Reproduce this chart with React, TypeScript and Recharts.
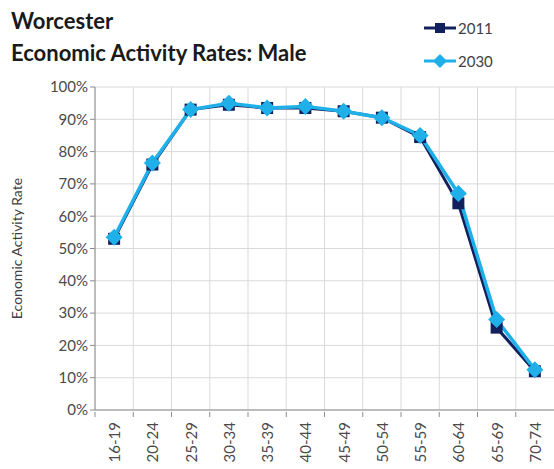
import { LineChart, Line, XAxis, YAxis, CartesianGrid, Label } from 'recharts';

// age bands along the x axis
const ageGroups = ['16-19', '20-24', '25-29', '30-34', '35-39', '40-44', '45-49', '50-54', '55-59', '60-64', '65-69', '70-74'];
// activity rates in %
const rates2011 = [53, 76, 93, 94.5, 93.5, 93.5, 92.5, 90.5, 84.5, 64, 25.5, 12];
const rates2030 = [53.5, 76.5, 93, 95, 93.5, 94, 92.5, 90.5, 85, 67, 28, 12.5];
const yTicks = [0, 10, 20, 30, 40, 50, 60, 70, 80, 90, 100];

const NAVY = '#13205e';
const LIGHT = '#1fb0ea';
const AXIS = '#8c8c8c';
const FONT = 'Lato, "Open Sans", sans-serif';

const data = ageGroups.map((age, i) => ({ age, y2011: rates2011[i], y2030: rates2030[i] }));

const SquareDot = (props: any) => {
  const { cx, cy, index } = props;
  if (cx == null || cy == null) return null;
  return <rect key={'s' + index} x={cx - 6} y={cy - 6} width={12} height={12} fill={NAVY} />;
};

const DiamondDot = (props: any) => {
  const { cx, cy, index } = props;
  if (cx == null || cy == null) return null;
  const r = 8.5;
  return (
    <polygon
      key={'d' + index}
      points={`${cx},${cy - r} ${cx + r},${cy} ${cx},${cy + r} ${cx - r},${cy}`}
      fill={LIGHT}
    />
  );
};

// Excel style: tick marks sit between categories, labels read upwards
const AgeTick = (props: any) => {
  const { x, y, payload, width } = props;
  const half = width / ageGroups.length / 2;
  const top = y - 10;
  return (
    <g>
      <line x1={x - half} y1={top} x2={x - half} y2={top + 5} stroke={AXIS} />
      <text x={x} y={y} transform={`rotate(-90, ${x}, ${y})`} textAnchor="end" dominantBaseline="central"
        fill="#4a4a4a" fontSize={15} fontFamily={FONT}>
        {payload.value}
      </text>
    </g>
  );
};

const legendItems = [
  { name: '2011', color: NAVY, shape: 'square' },
  { name: '2030', color: LIGHT, shape: 'diamond' },
];

export default function App() {
  return (
    <div style={{ position: 'absolute', left: 0, top: 0, width: 554, height: 469, background: '#fff' }}>
      <LineChart width={554} height={469} data={data} margin={{ top: 87, right: 0, bottom: 0, left: 0 }}>
        <CartesianGrid stroke="#d9d9d9"
          verticalCoordinatesGenerator={({ offset }: any) =>
            ageGroups.map((_, i) => offset.left + (i * offset.width) / ageGroups.length)} />
        <XAxis dataKey="age" scale="band" height={59} axisLine={{ stroke: AXIS }} tickLine={false}
          tick={<AgeTick />} tickMargin={0} tickSize={12} interval={0} />
        <YAxis domain={[0, 100]} ticks={yTicks} width={95} tickFormatter={(v) => `${v}%`}
          tick={{ fill: '#4a4a4a', fontSize: 15, fontFamily: FONT }}
          axisLine={{ stroke: AXIS }} tickLine={{ stroke: AXIS }} tickSize={5}>
          <Label value="Economic Activity Rate" angle={-90} position="insideLeft" offset={17}
            style={{ textAnchor: 'middle', fill: '#404040', fontSize: 14, fontFamily: FONT }} />
        </YAxis>
        <Line dataKey="y2011" name="2011" stroke={NAVY} strokeWidth={3}
          dot={<SquareDot />} activeDot={false} isAnimationActive={false} />
        <Line dataKey="y2030" name="2030" stroke={LIGHT} strokeWidth={3.5}
          dot={<DiamondDot />} activeDot={false} isAnimationActive={false} />
      </LineChart>
      <div style={{ position: 'absolute', left: 11, top: 5, fontFamily: FONT, fontWeight: 700, fontSize: 22, color: '#1a1a1a', lineHeight: '32px' }}>
        <div>Worcester</div>
        <div>Economic Activity Rates: Male</div>
      </div>
      <div style={{ position: 'absolute', left: 424, top: 18, fontFamily: FONT, fontSize: 15, color: '#404040' }}>
        {legendItems.map((item, i) => (
          <div key={item.name} style={{ display: 'flex', alignItems: 'center', height: 20, marginBottom: i === 0 ? 13 : 0 }}>
            <svg width={32} height={16}>
              <line x1={0} y1={8} x2={32} y2={8} stroke={item.color} strokeWidth={3} />
              {item.shape === 'square'
                ? <rect x={11} y={3} width={10} height={10} fill={item.color} />
                : <polygon points="16,1 23,8 16,15 9,8" fill={item.color} />}
            </svg>
            <span style={{ marginLeft: 2 }}>{item.name}</span>
          </div>
        ))}
      </div>
    </div>
  );
}
